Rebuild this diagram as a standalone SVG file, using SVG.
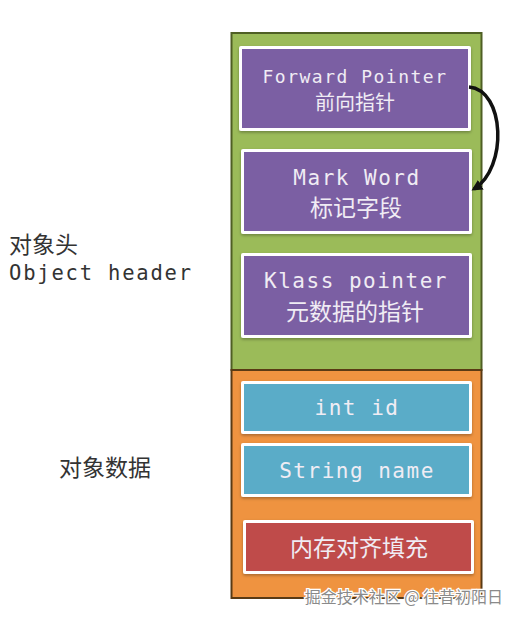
<svg xmlns="http://www.w3.org/2000/svg" width="520" height="621" viewBox="0 0 520 621">
<style>
.mono{font-family:"DejaVu Sans Mono","Liberation Mono",monospace;}
.cjk{font-family:"Noto Sans CJK SC","Noto Sans",sans-serif;}
.lt{fill:#f0ecf4;text-anchor:middle;}
.dk{fill:#333333;}
.frame{fill:#ffffff;}
.big{font-size:21px;letter-spacing:1.5px;}
</style>
<defs>
<filter id="sh" x="-10%" y="-10%" width="120%" height="130%">
<feDropShadow dx="0" dy="1.5" stdDeviation="1.5" flood-color="#000" flood-opacity="0.3"/>
</filter>
<marker id="ah" markerWidth="11" markerHeight="11" refX="8" refY="5.5" orient="auto" markerUnits="userSpaceOnUse">
<path d="M0,0 L11,5.5 L0,11 Z" fill="#111"/>
</marker>
</defs>
<rect width="520" height="621" fill="#ffffff"/>
<g id="header-region">
<rect x="231.5" y="33" width="250" height="337" fill="#9bbb59" stroke="#4f5f24" stroke-width="2"/>
</g>
<g id="data-region">
<rect x="231.5" y="370" width="250" height="228" fill="#ef9340" stroke="#5a3a14" stroke-width="2"/>
</g>
<g id="forward-pointer">
<rect x="239" y="46" width="232" height="85" rx="2" class="frame" filter="url(#sh)"/>
<rect x="242" y="49" width="226" height="79" fill="#7b5fa3"/>
<text x="355" y="83" class="mono lt" font-size="18" letter-spacing="1.5">Forward Pointer</text>
<text x="355" y="110" class="cjk lt" font-size="20">前向指针</text>
</g>
<g id="mark-word">
<rect x="241" y="149" width="231" height="85" rx="2" class="frame" filter="url(#sh)"/>
<rect x="244" y="152" width="225" height="79" fill="#7b5fa3"/>
<text x="357" y="185" class="mono lt big">Mark Word</text>
<text x="356" y="216" class="cjk lt" font-size="23">标记字段</text>
</g>
<g id="klass-pointer">
<rect x="241" y="253" width="231" height="85" rx="2" class="frame" filter="url(#sh)"/>
<rect x="244" y="256" width="225" height="79" fill="#7b5fa3"/>
<text x="356" y="288" class="mono lt big">Klass pointer</text>
<text x="355" y="320" class="cjk lt" font-size="23">元数据的指针</text>
</g>
<g id="int-id">
<rect x="241" y="381" width="231" height="53" rx="2" class="frame" filter="url(#sh)"/>
<rect x="244" y="384" width="225" height="47" fill="#5aacc8"/>
<text x="357" y="415" class="mono lt big">int id</text>
</g>
<g id="string-name">
<rect x="241" y="443" width="231" height="54" rx="2" class="frame" filter="url(#sh)"/>
<rect x="244" y="446" width="225" height="48" fill="#5aacc8"/>
<text x="357" y="478" class="mono lt big">String name</text>
</g>
<g id="padding">
<rect x="243" y="520" width="231" height="54" rx="2" class="frame" filter="url(#sh)"/>
<rect x="246" y="523" width="225" height="48" fill="#bf4b4a"/>
<text x="359" y="556" class="cjk lt" font-size="23">内存对齐填充</text>
</g>
<g id="label-header">
<text x="9" y="253" class="cjk dk" font-size="23">对象头</text>
<text x="9" y="280" class="mono dk" font-size="20.5" letter-spacing="1.8">Object header</text>
</g>
<g id="label-data">
<text x="105" y="476" class="cjk dk" font-size="23" text-anchor="middle">对象数据</text>
</g>
<g id="connectors">
<path d="M469,87 C505,90 508,168 474,189" fill="none" stroke="#111" stroke-width="3.5" marker-end="url(#ah)"/>
</g>
<g id="watermark">
<text x="503" y="603" class="cjk" font-size="16" text-anchor="end" fill="#8a8a8a" stroke="#ffffff" stroke-width="2.5" paint-order="stroke">掘金技术社区 @ 往昔初阳日</text>
</g>
</svg>
